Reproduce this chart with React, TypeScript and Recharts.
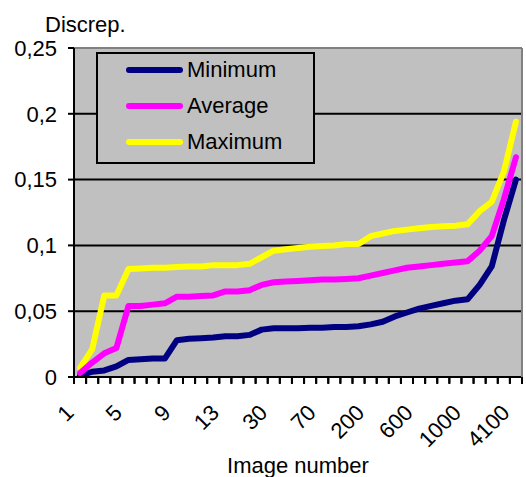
import { LineChart, Line, XAxis, YAxis, CartesianGrid, Legend, ReferenceLine } from "recharts";

const categories = [
  "1", "2", "3", "4", "5", "6", "7", "8", "9", "10", "11", "12", "13",
  "15", "20", "25", "30", "40", "50", "60", "70", "100", "130", "160", "200",
  "300", "400", "500", "600", "700", "800", "900", "1000", "1500", "2500", "3500", "4100",
];

const minimum = [
  0.001, 0.004, 0.005, 0.008, 0.013, 0.0135, 0.014, 0.014, 0.028, 0.029, 0.0295, 0.03, 0.031,
  0.031, 0.032, 0.036, 0.037, 0.037, 0.037, 0.0375, 0.0375, 0.038, 0.038, 0.0385, 0.04,
  0.042, 0.046, 0.049, 0.052, 0.054, 0.056, 0.058, 0.059, 0.07, 0.084, 0.119, 0.15,
];

const average = [
  0.003, 0.011, 0.018, 0.022, 0.054, 0.054, 0.055, 0.056, 0.061, 0.061, 0.0615, 0.062, 0.065,
  0.065, 0.066, 0.07, 0.072, 0.0725, 0.073, 0.0735, 0.074, 0.074, 0.0745, 0.075, 0.077,
  0.079, 0.081, 0.083, 0.084, 0.085, 0.086, 0.087, 0.088, 0.096, 0.107, 0.135, 0.167,
];

const maximum = [
  0.007, 0.021, 0.062, 0.062, 0.082, 0.0825, 0.083, 0.083, 0.0835, 0.084, 0.084, 0.085, 0.085,
  0.085, 0.086, 0.091, 0.096, 0.097, 0.098, 0.099, 0.0995, 0.1, 0.101, 0.101, 0.107,
  0.109, 0.111, 0.112, 0.113, 0.114, 0.1145, 0.115, 0.116, 0.126, 0.133, 0.156, 0.194,
];

const yTicks = [0, 0.05, 0.1, 0.15, 0.2, 0.25];
// tick marks sit between categories, like Excel; each point is drawn at its category's middle
const boundaryTicks = Array.from({ length: categories.length + 1 }, (_, i) => i);

const series = [
  { key: "min", name: "Minimum", color: "#000080" },
  { key: "avg", name: "Average", color: "#FF00FF" },
  { key: "max", name: "Maximum", color: "#FFFF00" },
];

const FONT = '"Liberation Sans", Arial, sans-serif';
const PLOT_W = 448;
const BAND = PLOT_W / categories.length;
const MARK_LEN = 0.0048; // ~6px below the axis, in data units

const chartData = categories.map((image, i) => ({
  image,
  idx: i + 0.5,
  min: minimum[i],
  avg: average[i],
  max: maximum[i],
}));

function XTick(props: any) {
  const { x, y, payload } = props;
  const i = payload.value;
  if (i % 4 !== 0 || i >= categories.length) return <g />;
  const lx = x + BAND / 2 - 5;
  const ly = y + 30;
  return (
    <text
      x={lx}
      y={ly}
      transform={`rotate(-45, ${lx}, ${ly})`}
      textAnchor="end"
      fontSize={22}
      fontFamily={FONT}
      fill="#000"
    >
      {categories[i]}
    </text>
  );
}

function LegendBox() {
  return (
    <div
      style={{
        width: 219,
        height: 112,
        boxSizing: "border-box",
        border: "2px solid #000",
        background: "#C0C0C0",
        position: "relative",
        fontFamily: FONT,
        fontSize: 22,
        color: "#000",
      }}
    >
      {series.map((s, i) => (
        <div
          key={s.key}
          style={{ position: "absolute", left: 25, top: 3 + i * 36, height: 26, display: "flex", alignItems: "center" }}
        >
          <svg width={60} height={8} style={{ display: "block" }}>
            <line x1={6} y1={4} x2={57} y2={4} stroke={s.color} strokeWidth={6} strokeLinecap="round" />
          </svg>
          <span style={{ marginLeft: 4, lineHeight: "26px" }}>{s.name}</span>
        </div>
      ))}
    </div>
  );
}

// draw order: Minimum, Maximum, Average (average sits on top at the start)
const drawOrder = ["min", "max", "avg"];

export default function App() {
  return (
    <div style={{ position: "absolute", left: 0, top: 0, width: 526, height: 477, background: "#fff" }}>
      <LineChart
        width={526}
        height={477}
        data={chartData}
        margin={{ top: 47, right: 0, bottom: 0, left: 0 }}
      >
        <CartesianGrid
          fill="#C0C0C0"
          stroke="#000"
          strokeWidth={2}
          vertical={false}
          horizontalValues={[0.05, 0.1, 0.15, 0.2]}
        />
        <XAxis
          type="number"
          dataKey="idx"
          domain={[0, categories.length]}
          allowDataOverflow
          ticks={boundaryTicks}
          interval={0}
          height={100}
          tickSize={7}
          tickMargin={0}
          tickLine={{ stroke: "#000", strokeWidth: 2 }}
          axisLine={{ stroke: "#000", strokeWidth: 2 }}
          tick={<XTick />}
          label={{
            value: "Image number",
            position: "insideBottom",
            offset: 4,
            fontSize: 22,
            fontFamily: FONT,
            fill: "#000",
          }}
        />
        <XAxis
          xAxisId="top"
          orientation="top"
          dataKey="image"
          height={1}
          tick={false}
          tickLine={false}
          axisLine={{ stroke: "#808080", strokeWidth: 2 }}
        />
        <YAxis
          width={74}
          domain={[0, 0.25]}
          ticks={yTicks}
          allowDataOverflow
          interval={0}
          tickSize={6}
          tickMargin={11}
          tickLine={{ stroke: "#000", strokeWidth: 2 }}
          axisLine={{ stroke: "#000", strokeWidth: 2 }}
          tick={{ fontSize: 22, fontFamily: FONT, fill: "#000" }}
          tickFormatter={(v: number) => String(v).replace(".", ",")}
          label={{
            content: () => (
              <text x={45} y={32} fontSize={22} fontFamily={FONT} fill="#000">
                Discrep.
              </text>
            ),
          }}
        />
        <YAxis
          yAxisId="right"
          orientation="right"
          width={4}
          tick={false}
          tickLine={false}
          axisLine={{ stroke: "#808080", strokeWidth: 2 }}
        />
        {boundaryTicks.map((k) => (
          <ReferenceLine
            key={`mark-${k}`}
            segment={[
              { x: k, y: 0 },
              { x: k, y: -MARK_LEN },
            ]}
            stroke="#000"
            strokeWidth={2}
            ifOverflow="visible"
          />
        ))}
        <Legend
          layout="vertical"
          align="center"
          verticalAlign="middle"
          wrapperStyle={{ left: 96, top: 52, width: 219, height: 112 }}
          content={() => <LegendBox />}
        />
        {drawOrder.map((k) => {
          const s = series.find((d) => d.key === k)!;
          return (
            <Line
              key={s.key}
              type="linear"
              dataKey={s.key}
              name={s.name}
              stroke={s.color}
              strokeWidth={6}
              strokeLinejoin="round"
              strokeLinecap="round"
              dot={false}
              activeDot={false}
              isAnimationActive={false}
            />
          );
        })}
      </LineChart>
    </div>
  );
}
